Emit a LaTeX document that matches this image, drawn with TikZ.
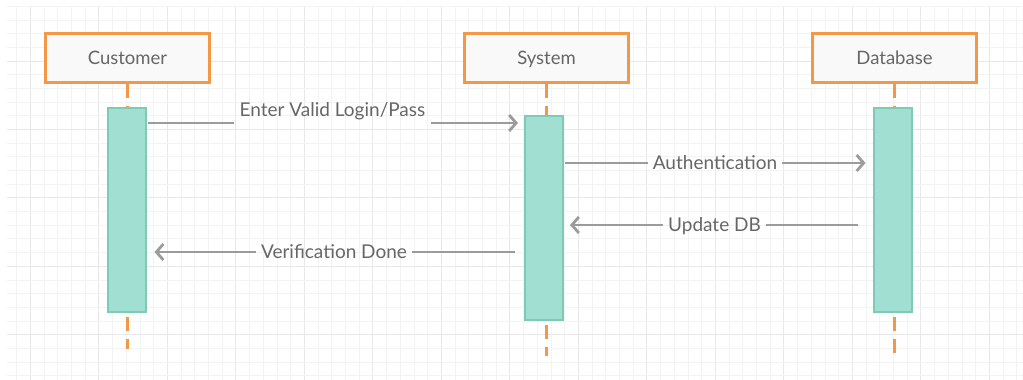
\documentclass[tikz,border=0pt]{standalone}
\usepackage{fontspec}
\setmainfont{Lato}
\usetikzlibrary{arrows.meta,calc}

\definecolor{gridminor}{HTML}{F3F3F3}
\definecolor{gridmajor}{HTML}{E8E8E8}
\definecolor{actorline}{HTML}{F29847}
\definecolor{actorfill}{HTML}{F9F9F9}
\definecolor{actfill}{HTML}{A0DFD2}
\definecolor{actline}{HTML}{7DCAB5}
\definecolor{msgcol}{HTML}{9B9B9B}
\definecolor{txtcol}{HTML}{666666}

\tikzset{
  actor/.style={draw=actorline, fill=actorfill, line width=2.2pt,
    minimum width=164pt, minimum height=49pt, inner sep=0pt, text depth=0pt,
    text=txtcol, font=\fontsize{18.5}{20}\selectfont},
  activation/.style={draw=actline, fill=actfill, line width=2pt,
    minimum width=38pt, inner sep=0pt},
  lifeline/.style={draw=actorline, line width=2.2pt, dash pattern=on 14pt off 8pt},
  msgline/.style={draw=msgcol, line width=2.8pt},
  msgarrow/.style={msgline, -{Straight Barb[length=7pt,width=16pt,line width=2.8pt]}},
  msglabel/.style={text=txtcol, font=\fontsize{19}{21}\selectfont, text depth=0pt,
    inner xsep=5pt, inner ysep=3pt}
}

\begin{document}
\begin{tikzpicture}[x=1pt,y=-1pt]
\useasboundingbox (0,0) rectangle (1023,380);

% background grid
\foreach \i in {0,...,73} {
  \pgfmathsetmacro{\gx}{16.7+13.7*\i}
  \pgfmathtruncatemacro{\maj}{mod(\i+4,5)==0}
  \ifnum\maj=1
    \draw[gridmajor, line width=0.9pt] (\gx,7) -- (\gx,380);
  \else
    \draw[gridminor, line width=0.8pt] (\gx,7) -- (\gx,380);
  \fi
}
\foreach \j in {0,...,27} {
  \pgfmathsetmacro{\gy}{6.3+13.68*\j}
  \pgfmathtruncatemacro{\maj}{mod(\j+1,5)==0}
  \ifnum\maj=1
    \draw[gridmajor, line width=0.9pt] (7,\gy) -- (1023,\gy);
  \else
    \draw[gridminor, line width=0.8pt] (7,\gy) -- (1023,\gy);
  \fi
}

% participants
\node[actor] (cust) at (127.5,58) {Customer};
\node[actor] (sys)  at (546.5,58) {System};
\node[actor] (db)   at (894.5,58) {Database};

% activation bars
\node[activation, minimum height=204pt] (custact) at (126.5,210) {};
\node[activation, minimum height=204pt] (sysact)  at (544,218) {};
\node[activation, minimum height=204pt] (dbact)   at (892.5,210) {};

% lifelines: above and below each activation bar
\coordinate (custend) at (127.5,349);
\coordinate (sysend)  at (546.5,356);
\coordinate (dbend)   at (894.5,356);
\draw[lifeline] (cust.south) -- (cust.south |- custact.north);
\draw[lifeline] (sys.south)  -- (sys.south |- sysact.north);
\draw[lifeline] (db.south)   -- (db.south |- dbact.north);
\draw[lifeline] ($(custend |- custact.south)+(0,4)$) -- (custend);
\draw[lifeline] ($(sysend |- sysact.south)+(0,4)$) -- (sysend);
\draw[lifeline] ($(dbend |- dbact.south)+(0,4)$) -- (dbend);

% message end points
\coordinate (m1s) at ($(custact.east |- 0,123)+(1,0)$);
\coordinate (m1e) at ($(sysact.west |- 0,123)+(-6,0)$);
\coordinate (m2s) at ($(sysact.east |- 0,163)+(1,0)$);
\coordinate (m2e) at ($(dbact.west |- 0,163)+(-7,0)$);
\coordinate (m3s) at ($(dbact.west |- 0,225)+(-15,0)$);
\coordinate (m3e) at ($(sysact.east |- 0,225)+(6,0)$);
\coordinate (m4s) at ($(sysact.west |- 0,252)+(-9,0)$);
\coordinate (m4e) at ($(custact.east |- 0,252)+(8,0)$);

% messages
\node[msglabel] (l1) at (332.5,110) {Enter Valid Login/Pass};
\draw[msgline]  (m1s) -- (l1.west |- m1s);
\draw[msgarrow] (l1.east |- m1s) -- (m1e);

\node[msglabel] (l2) at (715,163) {Authentication};
\draw[msgline]  (m2s) -- (l2.west);
\draw[msgarrow] (l2.east) -- (m2e);

\node[msglabel] (l3) at (714.5,225) {Update DB};
\draw[msgline]  (m3s) -- (l3.east);
\draw[msgarrow] (l3.west) -- (m3e);

\node[msglabel] (l4) at (334,252) {Verification Done};
\draw[msgline]  (m4s) -- (l4.east);
\draw[msgarrow] (l4.west) -- (m4e);
\end{tikzpicture}
\end{document}
